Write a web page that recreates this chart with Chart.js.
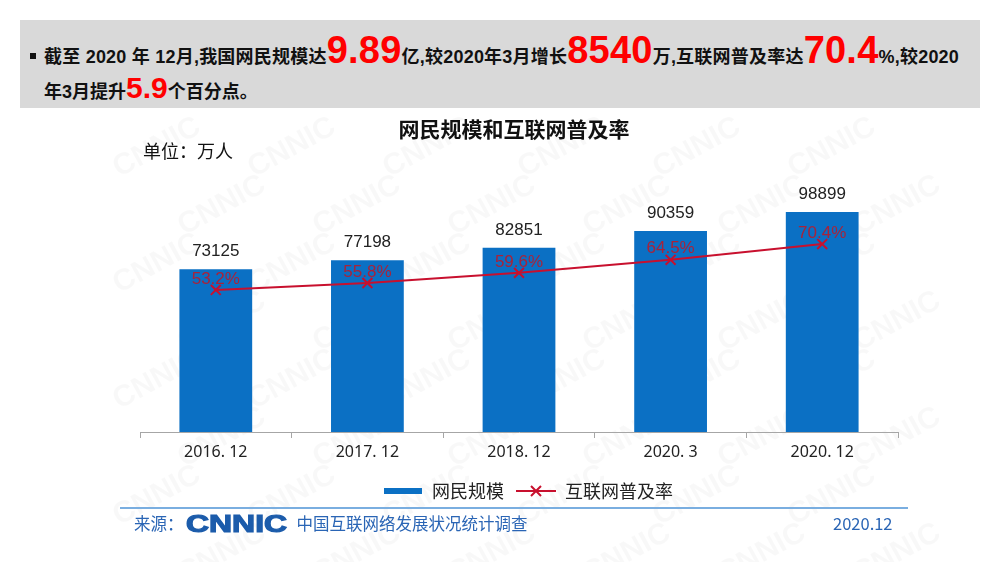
<!DOCTYPE html>
<html>
<head>
<meta charset="utf-8">
<script src="https://cdn.jsdelivr.net/npm/chart.js@4"></script>
<style>
  html, body { margin: 0; padding: 0; background: #fff; }
  body { width: 1000px; height: 562px; position: relative; overflow: hidden;
         font-family: "Liberation Sans", "Noto Sans CJK SC", sans-serif; }
  #chart { position: absolute; left: 0; top: 0; }
  #head { position: absolute; left: 20px; top: 20px; width: 960px; height: 88px; background: #d9d9d9; }
  #head .line { position: absolute; left: 10px; white-space: nowrap; font-weight: bold; font-size: 18px; color: #111; }
  #head .l1 { top: 10px; line-height: 40px; letter-spacing: 0.22px; }
  #head .l2 { top: 53px; line-height: 30px; left: 24px; }
  #head .dot { display: inline-block; width: 6px; height: 6px; background: #111; margin-right: 8px; vertical-align: middle; position: relative; top: -2px; }
  #head .big { font-size: 38px; color: #ff0000; font-family: "Liberation Sans", sans-serif; }
  #head .mid { font-size: 30px; color: #ff0000; font-family: "Liberation Sans", sans-serif; }
  #title { position: absolute; left: 0; width: 1028px; top: 113px; text-align: center;
           font: bold 21px "Noto Sans CJK SC", sans-serif; color: #111; }
  #unit { position: absolute; left: 143px; top: 137px; font: 18px "Noto Sans CJK SC", sans-serif; color: #111; }
  #rule { position: absolute; left: 120px; top: 507px; width: 788px; height: 2px; background: #7aaee0; }
  #src { position: absolute; left: 134px; top: 510px; white-space: nowrap; color: #2a65b5;
         font: 16.5px "Noto Sans CJK SC", sans-serif; line-height: 26px; }
  #src .logo { display: inline-block; font: bold 24px "Liberation Sans", sans-serif; color: #1c5cab;
               -webkit-text-stroke: 1.2px #1c5cab;
               transform: scaleX(1.33); transform-origin: left center; margin-left: 2px; width: 111px; vertical-align: top; }
  #date { position: absolute; left: 833px; top: 510px; color: #2a65b5; font: 16.5px "Noto Sans CJK SC", sans-serif; line-height: 26px; }
</style>
</head>
<body>
<canvas id="chart" width="1000" height="562"></canvas>
<div id="head">
  <div class="line l1"><span class="dot"></span>截至 2020 年 12月,我国网民规模达<span class="big">9.89</span>亿,较2020年3月增长<span class="big">8540</span>万,互联网普及率达<span class="big">70.4</span>%,较2020</div>
  <div class="line l2">年3月提升<span class="mid">5.9</span>个百分点。</div>
</div>
<div id="title">网民规模和互联网普及率</div>
<div id="unit">单位：万人</div>
<div id="rule"></div>
<div id="src">来源：<span class="logo">CNNIC</span>中国互联网络发展状况统计调查</div>
<div id="date">2020.12</div>
<script>
const categories = ['2016. 12', '2017. 12', '2018. 12', '2020. 3', '2020. 12'];
const netizens = [73125, 77198, 82851, 90359, 98899];
const penetration = [53.2, 55.8, 59.6, 64.5, 70.4];

const blue = '#0b70c4';
const red = '#c8102e';

// legend swatches
function makeBarSwatch() {
  const c = document.createElement('canvas');
  c.width = 38; c.height = 6;
  const x = c.getContext('2d');
  x.fillStyle = blue;
  x.fillRect(0, 0, 38, 6);
  return c;
}
function makeLineSwatch() {
  const c = document.createElement('canvas');
  c.width = 40; c.height = 14;
  const x = c.getContext('2d');
  x.strokeStyle = red;
  x.lineWidth = 2;
  x.beginPath(); x.moveTo(0, 7); x.lineTo(40, 7); x.stroke();
  x.beginPath(); x.moveTo(15, 2); x.lineTo(25, 12); x.moveTo(25, 2); x.lineTo(15, 12); x.stroke();
  return c;
}
const barSwatch = makeBarSwatch();
const lineSwatch = makeLineSwatch();

const watermark = {
  id: 'watermark',
  beforeDraw(chart) {
    const c = chart.ctx;
    c.save();
    c.fillStyle = '#fff';
    c.fillRect(0, 0, chart.width, chart.height);
    c.fillStyle = 'rgba(0,0,0,0.028)';
    c.font = 'bold 30px "Liberation Sans"';
    for (let row = 0; row < 8; row++) {
      for (let col = 0; col < 7; col++) {
        const x = 150 + col * 135 + (row % 2) * 65;
        const y = 140 + row * 58;
        if (x > 900) continue;
        c.save();
        c.translate(x, y);
        c.rotate(-0.5);
        c.fillText('CNNIC', -45, 10);
        c.restore();
      }
    }
    c.restore();
  }
};

const valueLabels = {
  id: 'valueLabels',
  afterDatasetsDraw(chart) {
    const c = chart.ctx;
    c.save();
    c.textAlign = 'center';
    const bars = chart.getDatasetMeta(0);
    c.font = '17px "Liberation Sans"';
    c.fillStyle = '#222';
    c.textBaseline = 'bottom';
    bars.data.forEach((el, i) => c.fillText(String(netizens[i]), el.x, el.y - 9));
    const pts = chart.getDatasetMeta(1);
    c.fillStyle = '#a8233a';
    c.textBaseline = 'middle';
    pts.data.forEach((el, i) => c.fillText(penetration[i].toFixed(1) + '%', el.x, el.y - 11));
    c.restore();
  }
};

new Chart(document.getElementById('chart'), {
  data: {
    labels: categories,
    datasets: [{
      type: 'bar',
      label: '网民规模',
      data: netizens,
      backgroundColor: blue,
      yAxisID: 'y',
      barPercentage: 0.96,
      categoryPercentage: 0.5,
      order: 1
    }, {
      type: 'line',
      label: '互联网普及率',
      data: penetration,
      yAxisID: 'y1',
      borderColor: red,
      borderWidth: 2,
      pointStyle: 'crossRot',
      pointRadius: 7,
      pointBorderColor: red,
      pointBorderWidth: 2,
      tension: 0,
      order: 0
    }]
  },
  options: {
    responsive: false,
    animation: false,
    devicePixelRatio: 1,
    layout: { padding: { left: 140, right: 84, top: 165, bottom: 52 } },
    scales: {
      x: {
        grid: { display: true, drawOnChartArea: false, drawTicks: true, tickLength: 6, color: '#a6a6a6', offset: true },
        border: { display: true, color: '#a6a6a6' },
        ticks: { color: '#222', font: { size: 16, family: 'Noto Sans' }, padding: 5 },
        afterFit(scale) { scale.height = 38; }
      },
      y: { display: false, min: 0, max: 120000 },
      y1: {
        display: true, min: 0, max: 100, position: 'right',
        ticks: { display: false }, grid: { display: false }, border: { display: false },
        afterFit(scale) { scale.width = 18; }
      }
    },
    plugins: {
      tooltip: { enabled: false },
      legend: {
        position: 'bottom',
        labels: {
          usePointStyle: true,
          pointStyleWidth: 40,
          padding: 12,
          color: '#222',
          font: { size: 18, family: 'Noto Sans CJK SC' },
          generateLabels() {
            return [
              { text: '网民规模', pointStyle: barSwatch, fontColor: '#222', datasetIndex: 0, lineWidth: 0 },
              { text: '互联网普及率', pointStyle: lineSwatch, fontColor: '#222', datasetIndex: 1, lineWidth: 0 }
            ];
          }
        }
      }
    }
  },
  plugins: [watermark, valueLabels]
});
</script>
</body>
</html>
